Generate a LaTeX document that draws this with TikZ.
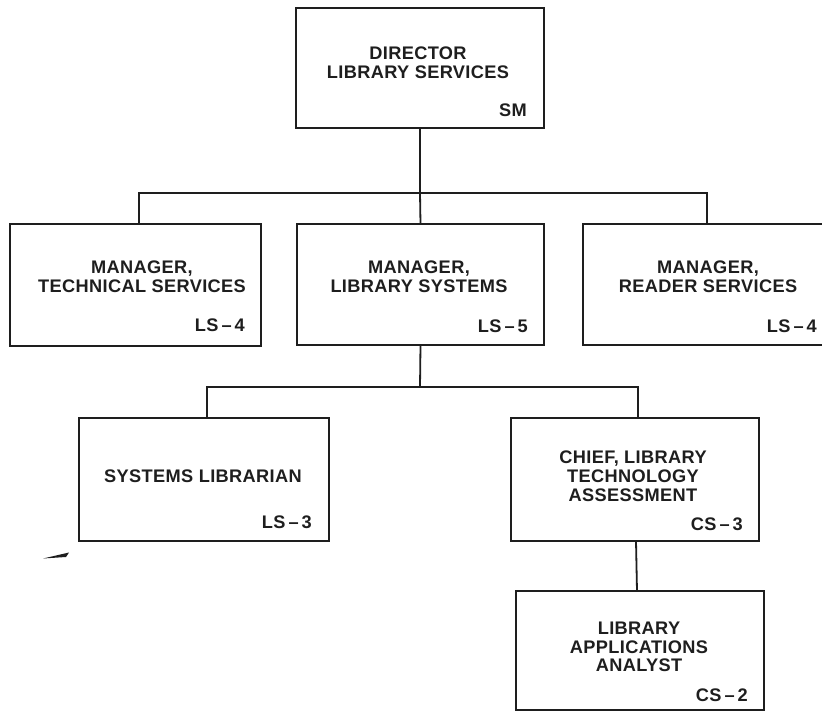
\documentclass[tikz,border=0pt]{standalone}
\usepackage{fontspec}
\setmainfont{Liberation Sans}
\newfontfamily\orgfont[LetterSpace=2.0]{Liberation Sans}
\usetikzlibrary{calc}
\definecolor{ink}{HTML}{1E1E1E}
\tikzset{
  box/.style={draw=ink, line width=2pt, inner sep=0pt, outer sep=0pt},
  title/.style={align=center, inner sep=0pt, text=ink,
    font=\orgfont\fontsize{18.2}{18.8}\selectfont\bfseries},
  grade/.style={anchor=east, inner sep=0pt, text=ink,
    font=\orgfont\fontsize{18.2}{18.8}\selectfont\bfseries},
  wire/.style={draw=ink, line width=1.8pt}
}
\begin{document}
\begin{tikzpicture}[x=1pt,y=-1pt]
\useasboundingbox (0,0) rectangle (822,711);
\fill[white] (0,0) rectangle (822,711);
% boxes
\node[box, minimum width=248pt, minimum height=120pt] (dir) at (420,68) {};
\node[box, minimum width=251pt, minimum height=122pt] (tech) at (135.5,285) {};
\node[box, minimum width=247pt, minimum height=121pt] (sys) at (420.5,284.5) {};
\node[box, minimum width=245pt, minimum height=121pt] (rdr) at (705.5,284.5) {};
\node[box, minimum width=250pt, minimum height=123pt] (lib) at (204,479.5) {};
\node[box, minimum width=248pt, minimum height=123pt] (chief) at (635,479.5) {};
\node[box, minimum width=248pt, minimum height=119pt] (anal) at (640,650.5) {};
% titles
\node[title] (dirT) at (418,62.5) {DIRECTOR\\LIBRARY SERVICES};
\node[grade] (dirG) at (527,110) {SM};
\node[title] (techT) at (142,276.5) {MANAGER,\\TECHNICAL SERVICES};
\node[grade] (techG) at (245,325) {LS\,–\,4};
\node[title] (sysT) at (419,276.5) {MANAGER,\\LIBRARY SYSTEMS};
\node[grade] (sysG) at (528,326) {LS\,–\,5};
\node[title] (rdrT) at (708,276.5) {MANAGER,\\READER SERVICES};
\node[grade] (rdrG) at (817,326) {LS\,–\,4};
\node[title] (libT) at (203,476) {SYSTEMS LIBRARIAN};
\node[grade] (libG) at (312,522) {LS\,–\,3};
\node[title] (chiefT) at (633,476) {CHIEF, LIBRARY\\TECHNOLOGY\\ASSESSMENT};
\node[grade] (chiefG) at (743,524) {CS\,–\,3};
\node[title] (analT) at (639,647) {LIBRARY\\APPLICATIONS\\ANALYST};
\node[grade] (analG) at (748,695) {CS\,–\,2};
% connectors
\coordinate (bus1) at (420,193);
\coordinate (bus2) at (420,387);
\draw[wire] (dir.south) -- (bus1);
\draw[wire] (bus1) -| ([xshift=3.5pt]tech.north);
\draw[wire] (bus1) -- (sys.north);
\draw[wire] (bus1) -| ([xshift=1.5pt]rdr.north);
\draw[wire] (sys.south) -- (bus2);
\draw[wire] (bus2) -| ([xshift=3pt]lib.north);
\draw[wire] (bus2) -| ([xshift=3pt]chief.north);
\draw[wire] ([xshift=1pt]chief.south) -- ([xshift=-3pt]anal.north);
% stray mark
\fill[ink] (43,558.5) -- (69,552.5) -- (66,557) -- cycle;
\end{tikzpicture}
\end{document}
